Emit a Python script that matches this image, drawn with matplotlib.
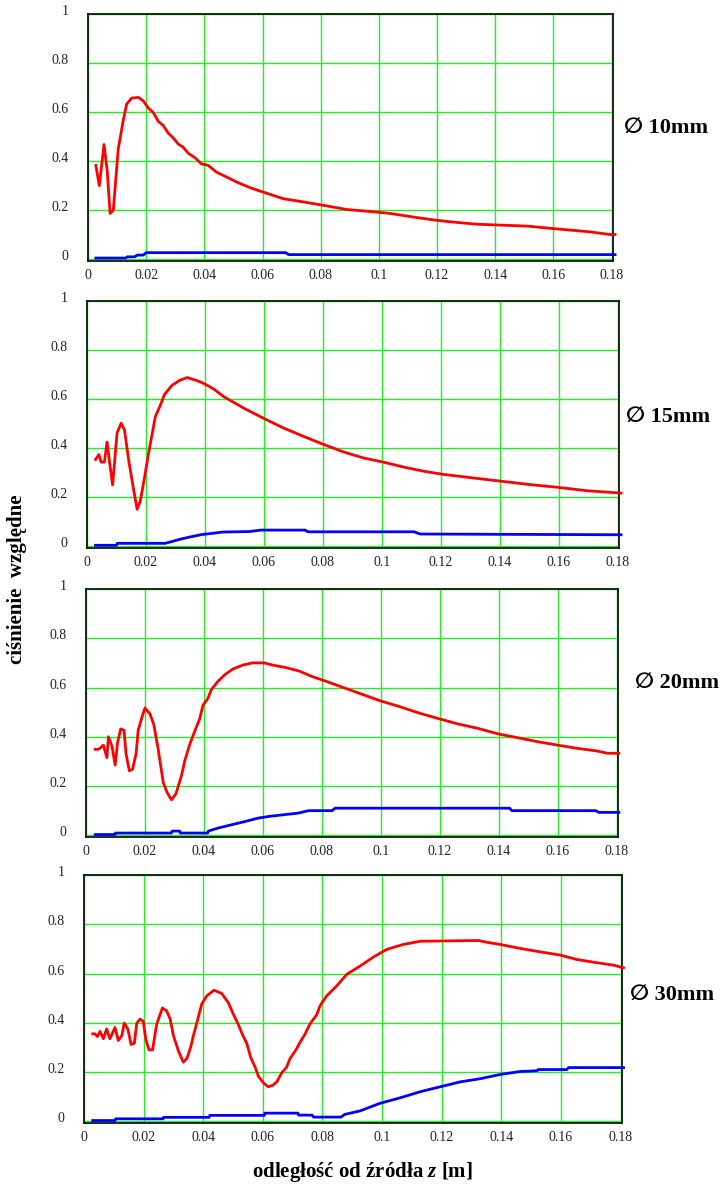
import matplotlib
matplotlib.use('Agg')
import matplotlib.pyplot as plt
import matplotlib.transforms as mtransforms

plt.rcParams['font.family'] = ['Liberation Serif', 'DejaVu Sans']
plt.rcParams['mathtext.fontset'] = 'custom'
plt.rcParams['mathtext.it'] = 'Liberation Serif:italic:bold'
plt.rcParams['mathtext.rm'] = 'Liberation Serif:bold'

# --- dane ---
xticks = [0, 0.02, 0.04, 0.06, 0.08, 0.1, 0.12, 0.14, 0.16, 0.18]
xtick_labels = ['0', '0.02', '0.04', '0.06', '0.08', '0.1', '0.12', '0.14', '0.16', '0.18']
yticks = [0, 0.2, 0.4, 0.6, 0.8, 1]
ytick_labels = ['0', '0.2', '0.4', '0.6', '0.8', '1']
panel_labels = ['\u2205 10mm', '\u2205 15mm', '\u2205 20mm', '\u2205 30mm']

red10_x = [0.0027, 0.0039, 0.0055, 0.0066, 0.0076, 0.0087, 0.0104, 0.0121, 0.0133, 0.0150,
           0.0173, 0.019, 0.0207, 0.0224, 0.0242, 0.0259, 0.0276, 0.0293, 0.031, 0.0327,
           0.0345, 0.0368, 0.039, 0.0413, 0.0442, 0.0477, 0.0511, 0.0557, 0.0602, 0.0671,
           0.074, 0.0809, 0.0889, 0.0969, 0.1038, 0.113, 0.1198, 0.1244, 0.1336, 0.1513,
           0.161, 0.1725, 0.1794, 0.1812]
red10_y = [0.383, 0.30, 0.468, 0.362, 0.187, 0.20, 0.45, 0.565, 0.633, 0.657,
           0.66, 0.646, 0.617, 0.599, 0.562, 0.545, 0.514, 0.495, 0.47, 0.457,
           0.432, 0.414, 0.389, 0.383, 0.355, 0.335, 0.315, 0.292, 0.274, 0.247,
           0.234, 0.22, 0.203, 0.195, 0.187, 0.17, 0.159, 0.153, 0.143, 0.135,
           0.124, 0.112, 0.101, 0.101]
blue10_x = [0.0027, 0.013, 0.0135, 0.016, 0.017, 0.019, 0.0195, 0.02, 0.068, 0.069, 0.1812]
blue10_y = [0.005, 0.005, 0.01, 0.01, 0.017, 0.017, 0.022, 0.027, 0.027, 0.019, 0.019]

red15_x = [0.0029, 0.004, 0.0048, 0.0059, 0.0068, 0.0076, 0.0087, 0.0102, 0.0116, 0.0127,
           0.0142, 0.0157, 0.017, 0.0181, 0.0195, 0.021, 0.0232, 0.0247, 0.0263, 0.0289,
           0.0317, 0.034, 0.0374, 0.0396, 0.043, 0.0464, 0.0532, 0.0599, 0.0667, 0.0735,
           0.0803, 0.087, 0.0938, 0.1006, 0.1074, 0.1142, 0.121, 0.13, 0.14, 0.15,
           0.16, 0.17, 0.1812]
red15_y = [0.354, 0.374, 0.343, 0.343, 0.425, 0.347, 0.25, 0.462, 0.502, 0.475,
           0.347, 0.239, 0.151, 0.185, 0.279, 0.387, 0.529, 0.57, 0.619, 0.657,
           0.678, 0.688, 0.675, 0.664, 0.641, 0.61, 0.563, 0.522, 0.482, 0.448,
           0.415, 0.385, 0.36, 0.343, 0.323, 0.306, 0.293, 0.28, 0.266, 0.252,
           0.24, 0.226, 0.217]
blue15_x = [0.0029, 0.01, 0.0103, 0.0265, 0.029, 0.032, 0.035, 0.039, 0.042, 0.046,
            0.055, 0.059, 0.074, 0.075, 0.111, 0.113, 0.1812]
blue15_y = [0.004, 0.004, 0.012, 0.012, 0.02, 0.03, 0.038, 0.048, 0.052, 0.058,
            0.06, 0.066, 0.066, 0.059, 0.059, 0.05, 0.047]

red20_x = [0.0031, 0.0043, 0.0059, 0.0071, 0.0076, 0.0088, 0.0099, 0.0107, 0.0118, 0.0129,
           0.0136, 0.0147, 0.0158, 0.017, 0.0177, 0.0189, 0.02, 0.0217, 0.023, 0.0245,
           0.0262, 0.0275, 0.029, 0.0305, 0.0324, 0.0335, 0.0352, 0.0369, 0.0385, 0.0397,
           0.0414, 0.0425, 0.0447, 0.047, 0.0498, 0.0532, 0.0565, 0.0605, 0.0633, 0.0678,
           0.0723, 0.0768, 0.0801, 0.088, 0.0998, 0.106, 0.1128, 0.1195, 0.1262, 0.133,
           0.1397, 0.1465, 0.1532, 0.16, 0.1667, 0.1735, 0.1769, 0.1808]
red20_y = [0.349, 0.349, 0.366, 0.315, 0.40, 0.362, 0.285, 0.376, 0.432, 0.426,
           0.329, 0.262, 0.268, 0.331, 0.426, 0.476, 0.517, 0.493, 0.45, 0.349,
           0.215, 0.174, 0.144, 0.168, 0.242, 0.302, 0.369, 0.423, 0.47, 0.528,
           0.557, 0.591, 0.624, 0.651, 0.675, 0.691, 0.70, 0.70, 0.691, 0.681,
           0.667, 0.644, 0.631, 0.597, 0.546, 0.524, 0.497, 0.474, 0.452, 0.434,
           0.412, 0.396, 0.38, 0.366, 0.353, 0.342, 0.333, 0.333]
blue20_x = [0.0031, 0.0098, 0.0100, 0.029, 0.0292, 0.0318, 0.032, 0.0413, 0.0415, 0.045,
            0.0495, 0.054, 0.0585, 0.063, 0.0675, 0.072, 0.0755, 0.0835, 0.0845, 0.1437,
            0.1445, 0.173, 0.174, 0.1808]
blue20_y = [0.003, 0.003, 0.009, 0.009, 0.017, 0.017, 0.009, 0.009, 0.017, 0.03,
            0.043, 0.056, 0.07, 0.078, 0.084, 0.09, 0.1, 0.1, 0.11, 0.11,
            0.1, 0.1, 0.093, 0.093]

red30_x = [0.0029, 0.0037, 0.0045, 0.0054, 0.0065, 0.0076, 0.0087, 0.0104, 0.0115, 0.0127,
           0.0135, 0.0147, 0.0158, 0.0169, 0.0177, 0.0188, 0.0199, 0.0207, 0.0218, 0.023,
           0.0244, 0.0263, 0.0277, 0.0289, 0.03, 0.0317, 0.0333, 0.0345, 0.0358, 0.0367,
           0.038, 0.0395, 0.0412, 0.0436, 0.0462, 0.0484, 0.0501, 0.0518, 0.0533, 0.0546,
           0.0559, 0.0574, 0.0585, 0.0602, 0.0618, 0.0633, 0.0647, 0.0663, 0.068, 0.0691,
           0.0711, 0.0725, 0.0742, 0.0758, 0.0781, 0.0792, 0.0814, 0.0848, 0.0882, 0.0926,
           0.0971, 0.1016, 0.1071, 0.1128, 0.1323, 0.1351, 0.1396, 0.1463, 0.153, 0.1597,
           0.1653, 0.172, 0.1776, 0.181]
red30_y = [0.355, 0.355, 0.344, 0.365, 0.335, 0.375, 0.335, 0.381, 0.328, 0.348,
           0.399, 0.375, 0.312, 0.317, 0.398, 0.415, 0.406, 0.335, 0.29, 0.29,
           0.395, 0.46, 0.449, 0.415, 0.348, 0.285, 0.24, 0.254, 0.301, 0.348,
           0.406, 0.476, 0.509, 0.532, 0.519, 0.482, 0.435, 0.392, 0.348, 0.317,
           0.26, 0.22, 0.183, 0.156, 0.14, 0.146, 0.16, 0.196, 0.22, 0.254,
           0.29, 0.321, 0.355, 0.395, 0.433, 0.469, 0.509, 0.55, 0.597, 0.63,
           0.667, 0.698, 0.718, 0.731, 0.734, 0.727, 0.718, 0.702, 0.688, 0.675,
           0.657, 0.644, 0.634, 0.623]
blue30_x = [0.0029, 0.0104, 0.0106, 0.0265, 0.0267, 0.042, 0.0422, 0.0605, 0.0607, 0.0718,
            0.072, 0.0765, 0.077, 0.0862, 0.0875, 0.0926, 0.0993, 0.106, 0.1128, 0.1195,
            0.1262, 0.133, 0.1396, 0.1463, 0.152, 0.1524, 0.162, 0.1626, 0.181]
blue30_y = [0.003, 0.003, 0.01, 0.01, 0.016, 0.016, 0.024, 0.024, 0.033, 0.033,
            0.025, 0.025, 0.017, 0.017, 0.028, 0.042, 0.073, 0.095, 0.12, 0.14,
            0.16, 0.173, 0.19, 0.202, 0.205, 0.21, 0.21, 0.218, 0.218]

W, H = 724, 1185
fig = plt.figure(figsize=(W / 100, H / 100), dpi=100)


def panel(box, red_x, red_y, blue_x, blue_y, label, label_xy):
    left, right, top, bottom = box
    ax = fig.add_axes([left / W, 1 - bottom / H, (right - left) / W, (bottom - top) / H])
    ax.plot(red_x, red_y, color='#ff0000', lw=2.0, clip_on=False, zorder=3)
    ax.plot(blue_x, blue_y, color='#0000ff', lw=2.0, clip_on=False, zorder=3)
    ax.set_xlim(0, 0.1805)
    ax.set_ylim(-0.007, 1.0)
    ax.set_xticks(xticks)
    ax.set_xticklabels(xtick_labels)
    ax.set_yticks(yticks)
    ax.set_yticklabels(ytick_labels)
    ax.tick_params(length=0, labelsize=10, colors='#222222')
    ax.tick_params(axis='y', pad=14)
    ax.tick_params(axis='x', pad=6)
    ax.grid(True, color='#22ee22', lw=1.0)
    ax.set_axisbelow(True)
    for s in ax.spines.values():
        s.set_color('#0a1a0a')
        s.set_linewidth(1.3)
    # etykiety osi y lekko nad liniami siatki
    off = mtransforms.ScaledTranslation(0, 0.04, fig.dpi_scale_trans)
    for t in ax.get_yticklabels():
        t.set_transform(t.get_transform() + off)
    fig.text(label_xy[0] / W, 1 - label_xy[1] / H, label, fontsize=16,
             fontweight='bold', ha='left', va='center',
             family=['Liberation Serif', 'DejaVu Sans'])
    return ax


panel((88, 613, 14, 261), red10_x, red10_y, blue10_x, blue10_y, panel_labels[0], (624, 128))
panel((87, 619, 301, 548), red15_x, red15_y, blue15_x, blue15_y, panel_labels[1], (626, 417))
panel((86, 618, 589, 837), red20_x, red20_y, blue20_x, blue20_y, panel_labels[2], (635, 683))
panel((84, 622, 875, 1123), red30_x, red30_y, blue30_x, blue30_y, panel_labels[3], (630, 995))

fig.text(17 / W, 1 - 579 / H, 'ciśnienie  względne', rotation=90, fontsize=15,
         fontweight='bold', ha='center', va='center')
fig.text(362 / W, 1 - 1172 / H, 'odległość od źródła $z$ [m]', fontsize=15,
         fontweight='bold', ha='center', va='center')

fig.savefig('out.png', dpi=100)
